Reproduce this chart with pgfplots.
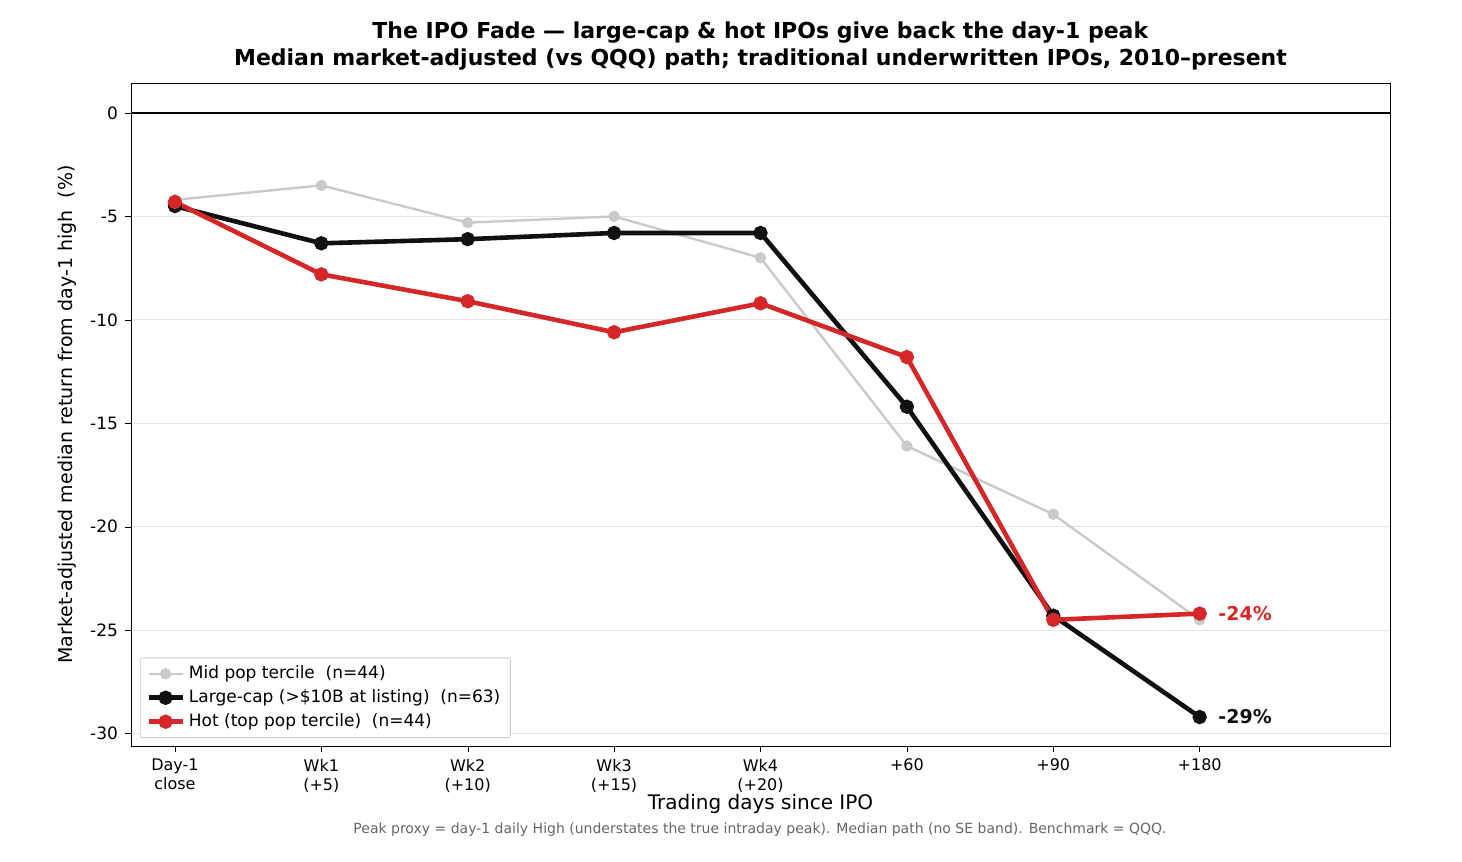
\documentclass[border=0pt]{standalone}
\usepackage{pgfplots}
\pgfplotsset{compat=1.18}
\usepackage{fontspec}
\setmainfont{DejaVu Sans}
\definecolor{midg}{RGB}{200,202,206}
\definecolor{hotr}{RGB}{214,39,40}
\definecolor{blk}{RGB}{17,17,17}
\begin{document}
\begin{tikzpicture}
\useasboundingbox (-65.5pt,-58pt) rectangle (665.5pt,373pt);
\begin{axis}[
  anchor=south west, at={(0,0)},
  scale only axis, width=629.5pt, height=331.5pt,
  xmin=-0.3, xmax=8.3, ymin=-30.6, ymax=1.45,
  xtick={0,...,7},
  xticklabels={{Day-1\\close},{Wk1\\(+5)},{Wk2\\(+10)},{Wk3\\(+15)},{Wk4\\(+20)},{+60},{+90},{+180}},
  xticklabel style={align=center, font=\fontsize{8}{9.5}\selectfont, anchor=north},
  ytick={-30,-25,...,0},
  yticklabel style={font=\fontsize{8.5}{10}\selectfont},
  /pgf/number format/assume math mode=true,
  ymajorgrids, grid style={gray!20, line width=0.5pt},
  tick style={black}, tick align=outside, major tick length=3pt,
  xtick pos=bottom, ytick pos=left,
  xlabel={Trading days since IPO}, xlabel style={font=\fontsize{10}{12}\selectfont, yshift=6pt},
  ylabel={Market-adjusted median return from day-1 high \ (\%)}, ylabel style={font=\fontsize{9.5}{11}\selectfont},
  title={\textbf{The IPO Fade — large-cap \& hot IPOs give back the day-1 peak}\\\textbf{Median market-adjusted (vs QQQ) path; traditional underwritten IPOs, 2010–present}},
  title style={align=center, font=\fontsize{11}{13.5}\selectfont, yshift=-3pt},
  legend pos=south west,
  legend style={font=\fontsize{8.5}{10}\selectfont, draw=gray!40, rounded corners=1pt, row sep=0pt, at={(0.007,0.012)}, anchor=south west},
  legend cell align=left,
  clip=false,
]
\draw[black, line width=0.6pt] (axis cs:-0.3,0) -- (axis cs:8.3,0);
\addplot[midg, line width=1.2pt, mark=*, mark size=2.2pt] coordinates {(0,-4.2)(1,-3.5)(2,-5.3)(3,-5.0)(4,-7.0)(5,-16.1)(6,-19.4)(7,-24.5)};
\addlegendentry{Mid pop tercile \ (n=44)}
\addplot[blk, line width=2.3pt, mark=*, mark size=2.4pt] coordinates {(0,-4.5)(1,-6.3)(2,-6.1)(3,-5.8)(4,-5.8)(5,-14.2)(6,-24.3)(7,-29.2)};
\addlegendentry{Large-cap (>\$10B at listing) \ (n=63)}
\addplot[hotr, line width=2.3pt, mark=*, mark size=2.4pt] coordinates {(0,-4.3)(1,-7.8)(2,-9.1)(3,-10.6)(4,-9.2)(5,-11.8)(6,-24.5)(7,-24.2)};
\addlegendentry{Hot (top pop tercile) \ (n=44)}
\node[anchor=west, text=hotr, font=\fontsize{9.5}{11}\selectfont\bfseries] at (axis cs:7.08,-24.2) {-24\%};
\node[anchor=west, text=blk, font=\fontsize{9.5}{11}\selectfont\bfseries] at (axis cs:7.08,-29.2) {-29\%};
\end{axis}
\node[font=\fontsize{7}{8}\selectfont, text=gray!80!black] at (314.5pt,-42pt) {Peak proxy = day-1 daily High (understates the true intraday peak). Median path (no SE band). Benchmark = QQQ.};
\end{tikzpicture}
\end{document}
